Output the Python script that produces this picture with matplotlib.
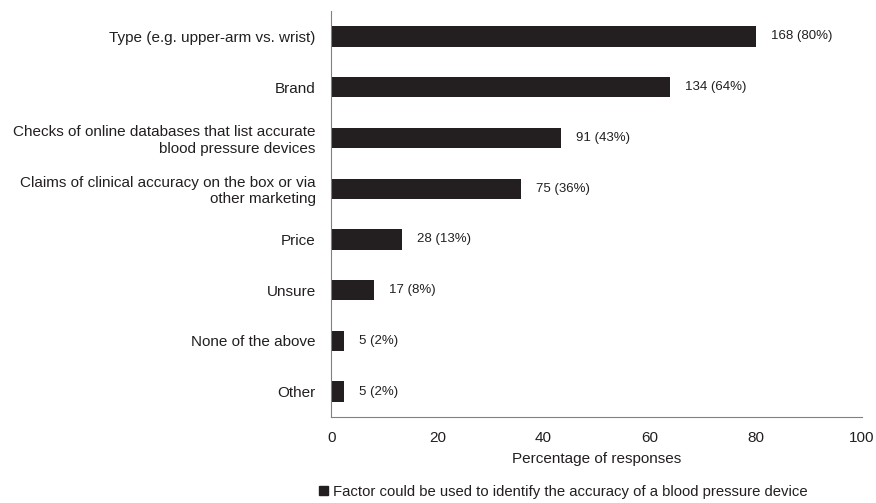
import matplotlib.pyplot as plt

plt.rcParams['font.family'] = ['Liberation Sans', 'DejaVu Sans']

categories = ["Type (e.g. upper-arm vs. wrist)", "Brand",
              "Checks of online databases that list accurate\nblood pressure devices",
              "Claims of clinical accuracy on the box or via\nother marketing",
              "Price", "Unsure", "None of the above", "Other"]
counts = [168, 134, 91, 75, 28, 17, 5, 5]
pct_labels = [80, 64, 43, 36, 13, 8, 2, 2]
percentages = [80.0, 63.8, 43.3, 35.7, 13.3, 8.1, 2.4, 2.4]

bar_color = '#231f20'
text_color = '#231f20'

fig = plt.figure(figsize=(8.76, 5.03), dpi=100)
ax = fig.add_axes([0.378, 0.171, 0.606, 0.807])

y = range(len(categories))
ax.barh(y, percentages, height=0.4, color=bar_color)
for yi, v, c, p in zip(y, percentages, counts, pct_labels):
    ax.annotate(f"{c} ({p}%)", (v, yi), xytext=(11, 0), textcoords='offset points',
                va='center', ha='left', fontsize=9.5, color=text_color)

ax.set_ylim(7.5, -0.5)
ax.set_xlim(0, 100)
ax.set_xticks([0, 20, 40, 60, 80, 100])
ax.set_yticks(list(y))
ax.set_yticklabels(categories)
ax.tick_params(axis='both', length=0, labelsize=11, colors=text_color)
ax.tick_params(axis='y', pad=11)
ax.tick_params(axis='x', pad=10)
for lab in ax.get_yticklabels():
    lab.set_horizontalalignment('right')
    lab.set_multialignment('right')
ax.spines['top'].set_visible(False)
ax.spines['right'].set_visible(False)
ax.spines['left'].set_color('#808080')
ax.spines['bottom'].set_color('#808080')
ax.set_xlabel("Percentage of responses", fontsize=11, color=text_color, labelpad=5)

handle = plt.Rectangle((0, 0), 1, 1, color=bar_color)
fig.legend([handle], ["Factor could be used to identify the accuracy of a blood pressure device"],
           loc='center', bbox_to_anchor=(0.643, 0.022), frameon=False, fontsize=10.7,
           handlelength=0.6, handleheight=0.6, handletextpad=0.3, labelcolor=text_color,
           borderpad=0)

fig.savefig('out.png', dpi=100)
